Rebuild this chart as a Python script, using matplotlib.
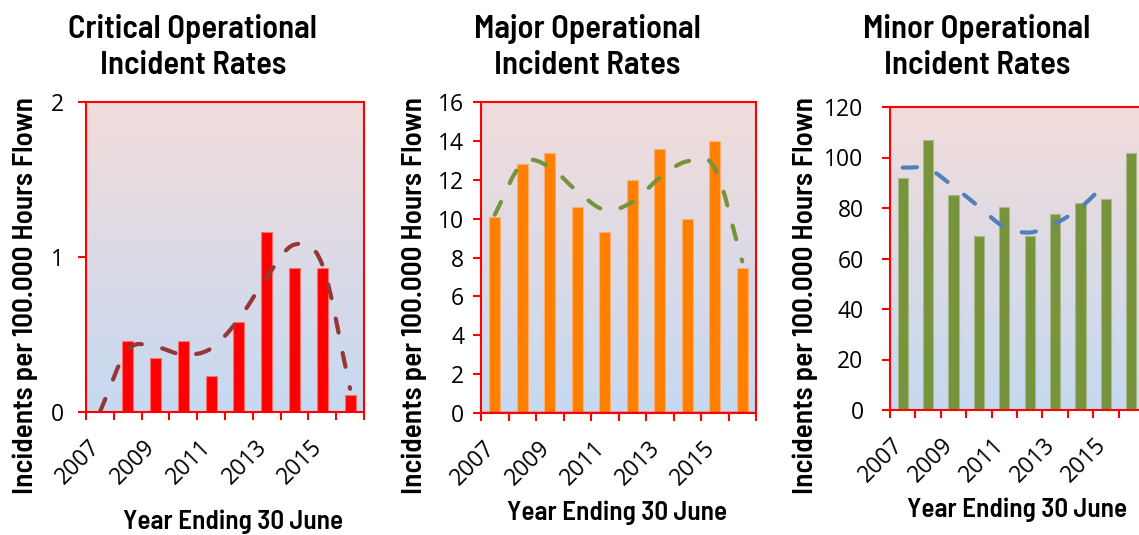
import numpy as np
import matplotlib
matplotlib.use("Agg")
import matplotlib.pyplot as plt
from matplotlib import font_manager
from matplotlib.path import Path
from matplotlib.patches import PathPatch
from matplotlib.transforms import ScaledTranslation

years = list(range(2007, 2017))
label_years = ["2007", "2009", "2011", "2013", "2015"]

critical = [0.0, 0.46, 0.35, 0.46, 0.23, 0.58, 1.16, 0.93, 0.93, 0.11]
critical_trend = [0.0, 0.40, 0.42, 0.37, 0.41, 0.60, 0.87, 1.08, 0.95, 0.15]

major = [10.1, 12.8, 13.4, 10.6, 9.3, 12.0, 13.6, 10.0, 14.0, 7.45]
major_trend = [10.2, 12.85, 12.65, 11.4, 10.45, 10.85, 12.1, 12.95, 12.6, 7.8]

minor = [92, 107, 85, 69, 80.5, 69, 77.5, 82, 83.7, 101.7]
minor_trend = [96, 95.5, 88.5, 80.5, 72.5, 70.3, 73.8, 80.2, 89.7]

titles = ["Critical Operational\nIncident Rates",
          "Major Operational\nIncident Rates",
          "Minor Operational\nIncident Rates"]

installed = {f.name for f in font_manager.fontManager.ttflist}
if "Barlow Semi Condensed" in installed:
    narrow, title_size, ylab_size, xlab_size = "Barlow Semi Condensed", 23.5, 21, 19.5
else:
    narrow, title_size, ylab_size, xlab_size = "Liberation Sans", 20.5, 14.5, 16
plain = "Open Sans" if "Open Sans" in installed else "DejaVu Sans"

W, H = 1139, 535
fig = plt.figure(figsize=(W / 100, H / 100), dpi=100)


def px_axes(l, t, r, b):
    return fig.add_axes([l / W, (H - b) / H, (r - l) / W, (b - t) / H])


def smooth_path(x, y):
    # Catmull-Rom spline through the points, as cubic Bezier segments
    n = len(x)
    verts = [(x[0], y[0])]
    codes = [Path.MOVETO]
    for i in range(n - 1):
        if i > 0:
            x0, y0 = x[i - 1], y[i - 1]
        else:
            x0, y0 = 2 * x[i] - x[i + 1], 2 * y[i] - y[i + 1]
        if i + 2 < n:
            x3, y3 = x[i + 2], y[i + 2]
        else:
            x3, y3 = 2 * x[i + 1] - x[i], 2 * y[i + 1] - y[i]
        c1 = (x[i] + (x[i + 1] - x0) / 6, y[i] + (y[i + 1] - y0) / 6)
        c2 = (x[i + 1] - (x3 - x[i]) / 6, y[i + 1] - (y3 - y[i]) / 6)
        verts += [c1, c2, (x[i + 1], y[i + 1])]
        codes += [Path.CURVE4] * 3
    return Path(verts, codes)


top_col = np.array([242, 220, 219]) / 255
bot_col = np.array([198, 217, 241]) / 255
grad = np.linspace(0, 1, 256)[:, None, None]
grad_img = top_col * (1 - grad) + bot_col * grad

panels = [
    dict(box=(86, 102, 364, 412), vals=critical, trend=critical_trend,
         bar="#FF0000", edge="#FF7070", line="#953735", ymax=2, step=1,
         pad=10, title_x=193, ylab_x=25, xlab=(233, 522)),
    dict(box=(481, 102, 756, 413), vals=major, trend=major_trend,
         bar="#FF8000", edge="#FFB070", line="#77933C", ymax=16, step=2,
         pad=6, title_x=587, ylab_x=414, xlab=(617, 513)),
    dict(box=(890, 107, 1144, 410), vals=minor, trend=minor_trend,
         bar="#77933C", edge="#A8B888", line="#4F81BD", ymax=120, step=20,
         pad=13, title_x=977, ylab_x=805, xlab=(1017, 510)),
]

for i, p in enumerate(panels):
    ax = px_axes(*p["box"])
    x = np.arange(len(years))
    ax.imshow(grad_img, extent=[0, 1, 0, 1], transform=ax.transAxes,
              aspect="auto", zorder=0)
    ax.bar(x, p["vals"], width=0.4, color=p["bar"], edgecolor=p["edge"],
           linewidth=0.8, zorder=2)
    tx = np.arange(len(p["trend"]), dtype=float)
    patch = PathPatch(smooth_path(tx, np.array(p["trend"], dtype=float)),
                      fill=False, edgecolor=p["line"], linewidth=3,
                      linestyle=(0, (3.4, 5.0)), zorder=3)
    patch.set_capstyle("round")
    ax.add_patch(patch)
    if i == 1:
        ax.axhline(0, color="#FF0000", lw=2.5, zorder=4)

    ax.set_xlim(-0.5, len(years) - 0.5)
    ax.set_ylim(0, p["ymax"])
    for s in ax.spines.values():
        s.set_color("#FF0000")
        s.set_linewidth(1.5)
        s.set_zorder(5)

    ax.set_xticks(np.arange(-0.5, len(years), 1.0))
    ax.set_xticklabels([])
    ax.set_xticks(np.arange(0, len(years), 2), minor=True)
    ax.set_xticklabels(label_years, minor=True, rotation=45, ha="right",
                       va="top", fontsize=16.5, family=plain)
    ax.tick_params(axis="x", which="major", direction="out", length=6,
                   width=1.5, color="#FF0000")
    ax.tick_params(axis="x", which="minor", length=0, pad=16.5)
    shift = ScaledTranslation(5 / 100, 0, fig.dpi_scale_trans)
    for lab in ax.get_xticklabels(minor=True):
        lab.set_transform(lab.get_transform() + shift)

    ax.set_yticks(np.arange(0, p["ymax"] + p["step"] / 2, p["step"]))
    ax.set_yticklabels([f"{v:g}" for v in ax.get_yticks()],
                       fontsize=16.5, family=plain)
    ax.tick_params(axis="y", direction="out", length=6, width=1.5,
                   color="#FF0000", pad=p["pad"])

    fig.text(p["title_x"] / W, 1 - 47 / H, titles[i], ha="center",
             va="center", fontsize=title_size, fontweight=600,
             family=[narrow, "DejaVu Sans"], linespacing=1.27)
    fig.text(p["ylab_x"] / W, 1 - 295 / H,
             "Incidents per 100.000 Hours Flown", rotation=90, ha="center",
             va="center", fontsize=ylab_size, fontweight=600,
             family=[narrow, "DejaVu Sans"])
    fig.text(p["xlab"][0] / W, 1 - p["xlab"][1] / H, "Year Ending 30 June",
             ha="center", va="center", fontsize=xlab_size, fontweight=600,
             family=[narrow, "DejaVu Sans"])

fig.savefig("out.png", dpi=100)
